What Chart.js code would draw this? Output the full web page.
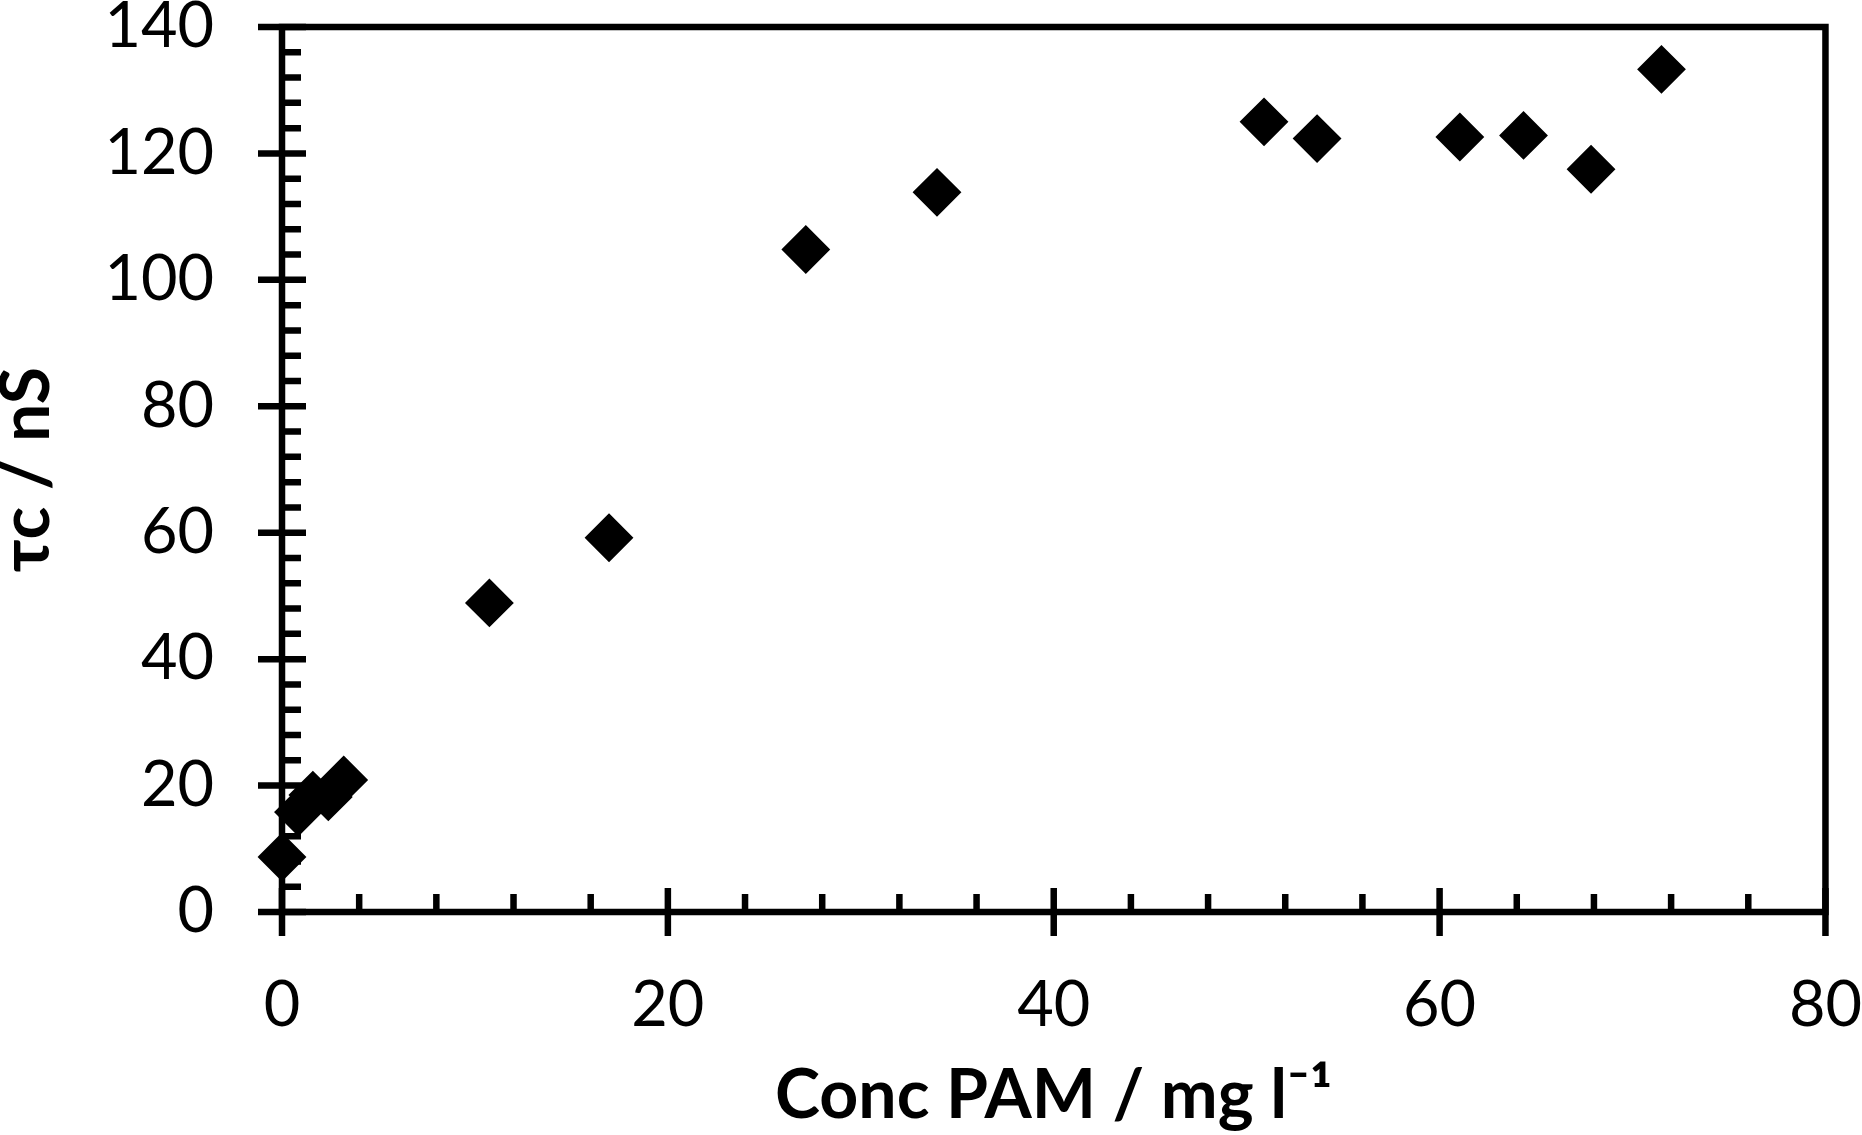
<!DOCTYPE html>
<html>
<head>
<meta charset="utf-8">
<script src="https://cdn.jsdelivr.net/npm/chart.js@4"></script>
<style>
  html, body { margin: 0; padding: 0; background: #fff; }
  #c { display: block; }
</style>
</head>
<body>
<canvas id="c" width="1862" height="1135"></canvas>
<script>
// ---- data ----
const concPAM = [0, 0.85, 1.6, 2.4, 3.2, 10.75, 16.95, 27.15, 33.95, 50.9, 53.65, 61.05, 64.35, 67.85, 71.5];
const tauC    = [8.7, 15.8, 18.5, 18.2, 20.9, 48.9, 59.2, 104.8, 113.85, 125.0, 122.35, 122.6, 122.85, 117.5, 133.3];
const xTicks = [0, 20, 40, 60, 80];
const yTicks = [0, 20, 40, 60, 80, 100, 120, 140];
const xTitle = 'Conc PAM / mg l\u207B\u00B9';
const yTitle = '\u03C4c / nS';

const points = concPAM.map((x, i) => ({ x: x, y: tauC[i] }));

// frame + major/minor ticks drawn through the scales
const frameTicks = {
  id: 'frameTicks',
  beforeDatasetsDraw(chart) {
    const { ctx, chartArea: a, scales: { x, y } } = chart;
    ctx.save();
    ctx.strokeStyle = '#000';
    ctx.lineWidth = 6.5;
    ctx.lineCap = 'butt';
    ctx.lineJoin = 'miter';
    ctx.strokeRect(a.left, a.top, a.right - a.left, a.bottom - a.top);
    const xMinor = (xTicks[1] - xTicks[0]) / 5;
    const yMinor = (yTicks[1] - yTicks[0]) / 5;
    ctx.beginPath();
    for (let v = x.min; v <= x.max + 1e-9; v += xMinor) {
      const p = x.getPixelForValue(v);
      const major = xTicks.some(t => Math.abs(t - v) < 1e-6);
      if (major) { ctx.moveTo(p, a.bottom - 24); ctx.lineTo(p, a.bottom + 24); }
      else { ctx.moveTo(p, a.bottom - 18); ctx.lineTo(p, a.bottom); }
    }
    for (let v = y.min; v <= y.max + 1e-9; v += yMinor) {
      const p = y.getPixelForValue(v);
      const major = yTicks.some(t => Math.abs(t - v) < 1e-6);
      if (major) { ctx.moveTo(a.left - 24, p); ctx.lineTo(a.left + 24, p); }
      else { ctx.moveTo(a.left, p); ctx.lineTo(a.left + 19, p); }
    }
    ctx.stroke();
    ctx.restore();
  }
};

function build() {
  const tickFont = { family: 'Lato, "Noto Sans", sans-serif', size: 63, lineHeight: 0.8 };
  // invisible tick marks used only as label offset (real marks drawn by plugin)
  const hiddenGrid = { display: true, drawOnChartArea: false, drawTicks: true, tickLength: 68, color: 'rgba(0,0,0,0)' };
  new Chart(document.getElementById('c'), {
    type: 'scatter',
    data: {
      datasets: [{
        data: points,
        pointStyle: 'rectRot',
        pointRadius: 23,
        pointHoverRadius: 23,
        backgroundColor: '#000',
        borderColor: '#000',
        borderWidth: 2,
        clip: false
      }]
    },
    options: {
      responsive: false,
      animation: false,
      devicePixelRatio: 1,
      layout: { padding: { left: 0, top: 27, right: 35, bottom: 0 } },
      plugins: { legend: { display: false }, tooltip: { enabled: false } },
      scales: {
        x: {
          type: 'linear',
          min: xTicks[0],
          max: xTicks[xTicks.length - 1],
          afterBuildTicks: s => { s.ticks = xTicks.map(v => ({ value: v })); },
          ticks: { font: tickFont, color: '#000', padding: 0, maxRotation: 0, autoSkip: false },
          grid: hiddenGrid,
          border: { display: false },
          title: {
            display: true, text: xTitle, color: '#000',
            font: { family: 'Lato, "Noto Sans", sans-serif', size: 68, weight: 'bold', lineHeight: 1 },
            padding: { top: 0, bottom: 5 }
          },
          afterFit: s => { s.height = 223; }
        },
        y: {
          type: 'linear',
          min: yTicks[0],
          max: yTicks[yTicks.length - 1],
          afterBuildTicks: s => { s.ticks = yTicks.map(v => ({ value: v })); },
          ticks: { font: tickFont, color: '#000', padding: 0, autoSkip: false },
          grid: hiddenGrid,
          border: { display: false },
          title: {
            display: true, text: yTitle, color: '#000',
            font: { family: 'Lato, "Noto Sans", sans-serif', size: 68, weight: 'bold', lineHeight: 0.8 },
            padding: { top: 0, bottom: 0 }
          },
          afterFit: s => { s.width = 282; }
        }
      }
    },
    plugins: [frameTicks]
  });
}

if (document.fonts && document.fonts.load) {
  Promise.all([
    document.fonts.load('63px Lato'),
    document.fonts.load('bold 68px Lato')
  ]).then(build, build);
} else {
  build();
}
</script>
</body>
</html>
